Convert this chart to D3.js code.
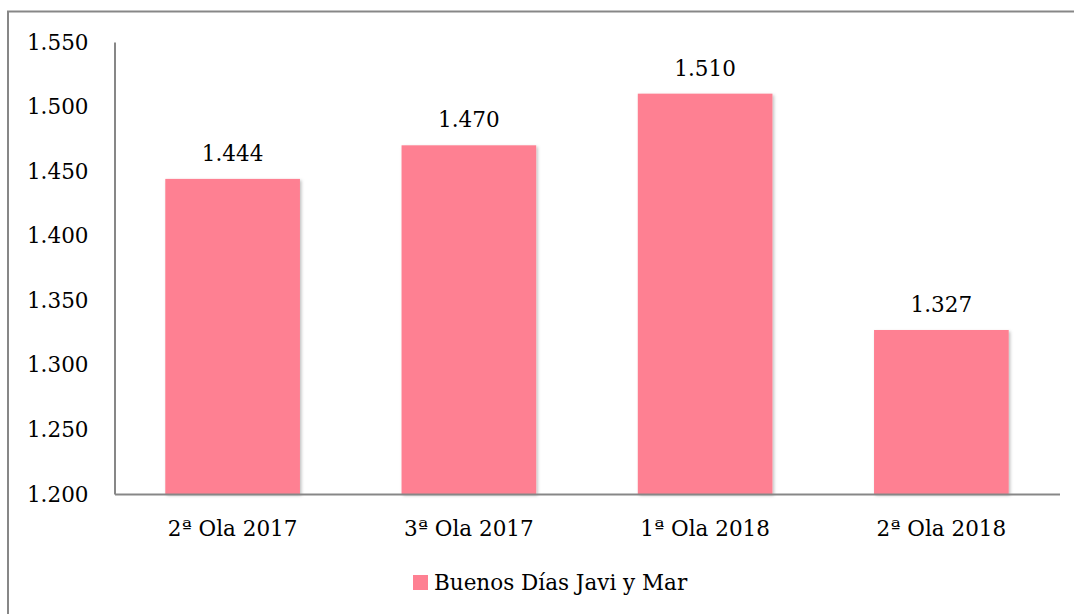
<!DOCTYPE html>
<html>
<head>
<meta charset="utf-8">
<script src="https://cdn.jsdelivr.net/npm/d3@7"></script>
<style>
  html, body { margin: 0; padding: 0; background: #fff; }
  svg { display: block; }
  text { font-family: "DejaVu Serif", "Liberation Serif", serif; fill: #000; }
</style>
</head>
<body>
<svg id="chart" width="1074" height="614"></svg>
<script>
// Audience by survey wave
const categories = ["2ª Ola 2017", "3ª Ola 2017", "1ª Ola 2018", "2ª Ola 2018"];
const values = [1444, 1470, 1510, 1327];
const yTicks = [1200, 1250, 1300, 1350, 1400, 1450, 1500, 1550];
const seriesName = "Buenos Días Javi y Mar";

const fmt = v => d3.format(",")(v).replace(/,/g, ".");
const fontFamily = '"DejaVu Serif", "Liberation Serif", serif';
const fontSize = 21.5;

const svg = d3.select("#chart");
const barColor = "#fe8092";
const axisColor = "#878787";

// Outer chart frame
svg.append("path")
  .attr("d", "M8,614 V11.5 H1074")
  .attr("fill", "none")
  .attr("stroke", axisColor)
  .attr("stroke-width", 2);

const plot = { left: 114.5, right: 1059.5, top: 42, bottom: 494 };

const x = d3.scaleBand()
  .domain(categories)
  .range([plot.left, plot.right])
  .paddingInner(0.43)
  .paddingOuter(0.215);

const y = d3.scaleLinear()
  .domain([1200, 1550])
  .range([plot.bottom, plot.top]);

// Soft drop shadow on bars
const defs = svg.append("defs");
const f = defs.append("filter").attr("id", "shadow")
  .attr("x", "-10%").attr("y", "-10%").attr("width", "120%").attr("height", "120%");
f.append("feDropShadow").attr("dx", 1.5).attr("dy", 1.5).attr("stdDeviation", 1.5)
  .attr("flood-color", "#000").attr("flood-opacity", 0.25);

// Bars
svg.append("g").selectAll("rect")
  .data(values)
  .join("rect")
  .attr("x", (d, i) => x(categories[i]))
  .attr("y", d => y(d))
  .attr("width", x.bandwidth())
  .attr("height", d => y(1200) - y(d))
  .attr("fill", barColor)
  .attr("filter", "url(#shadow)");

// Value labels
svg.append("g").selectAll("text")
  .data(values)
  .join("text")
  .attr("x", (d, i) => x(categories[i]) + x.bandwidth() / 2)
  .attr("y", d => y(d) - 18)
  .attr("text-anchor", "middle")
  .attr("font-size", fontSize)
  .text(d => fmt(d));

// Y axis
const yAxis = d3.axisLeft(y).tickValues(yTicks).tickSize(0).tickPadding(26).tickFormat(fmt);
const gy = svg.append("g").attr("transform", `translate(${plot.left},0)`).call(yAxis);
gy.select(".domain").attr("stroke", axisColor).attr("stroke-width", 2);
gy.selectAll("text").attr("font-size", fontSize).attr("dy", "0.33em")
  .style("font-family", fontFamily).attr("fill", "#000");

// X axis
const xAxis = d3.axisBottom(x).tickSize(0).tickPadding(27);
const gx = svg.append("g").attr("transform", `translate(0,${plot.bottom})`).call(xAxis);
gx.select(".domain").attr("stroke", axisColor).attr("stroke-width", 2);
gx.selectAll("text").attr("font-size", fontSize).attr("dy", "0.71em")
  .style("font-family", fontFamily).attr("fill", "#000");

// Legend
const lg = svg.append("g").attr("transform", "translate(413,575)");
lg.append("rect").attr("width", 15).attr("height", 15).attr("fill", barColor);
lg.append("text").attr("x", 21).attr("y", 15).attr("font-size", fontSize).text(seriesName);
</script>
</body>
</html>
